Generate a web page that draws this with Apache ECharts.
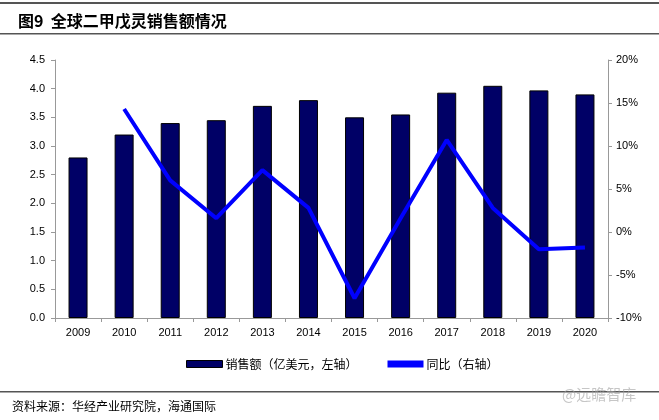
<!DOCTYPE html>
<html><head><meta charset="utf-8">
<script src="https://cdn.jsdelivr.net/npm/echarts@6/dist/echarts.min.js"></script>
<style>html,body{margin:0;padding:0;background:#fff}#c{width:659px;height:420px}</style>
</head><body><div id="c"></div>
<script>
const years = ['2009','2010','2011','2012','2013','2014','2015','2016','2017','2018','2019','2020'];
const sales = [2.8, 3.2, 3.4, 3.45, 3.7, 3.8, 3.5, 3.55, 3.93, 4.05, 3.97, 3.9];
const yoy = [null, 14.3, 6.0, 1.6, 7.2, 2.8, -7.7, 1.6, 10.7, 2.8, -2.0, -1.8];
const leftTicks = ['0.0','0.5','1.0','1.5','2.0','2.5','3.0','3.5','4.0','4.5'];

const chart = echarts.init(document.getElementById('c'));
const axisFont = {fontFamily:'Liberation Sans, Arial', fontSize:11, color:'#000'};
chart.setOption({
  animation:false,
  grid:{left:55, right:51, top:60, bottom:102},
  title:{text:'图9  全球二甲戊灵销售额情况', left:13, top:8,
    textStyle:{fontFamily:'Noto Sans CJK SC', fontWeight:'bold', fontSize:16, color:'#000'}},
  legend:{top:353, left:181, itemGap:30, itemWidth:36, itemHeight:7,
    textStyle:{fontFamily:'Noto Sans CJK SC', fontSize:12, color:'#000', padding:[0,0,0,-2]},
    data:[{name:'销售额（亿美元，左轴）', icon:'rect', itemStyle:{borderColor:'#000', borderWidth:1}}, {name:'同比（右轴）', icon:'rect', itemStyle:{color:'#0000ff', borderWidth:0}}]},
  xAxis:{type:'category', data:years,
    axisLine:{lineStyle:{color:'#999'}},
    axisTick:{show:true, alignWithLabel:false, length:4, lineStyle:{color:'#999'}},
    axisLabel:Object.assign({margin:9}, axisFont)},
  yAxis:[
    {type:'value', min:0, max:4.5, interval:0.5, position:'left',
     axisLine:{show:true, lineStyle:{color:'#999'}},
     axisTick:{show:true, length:4, lineStyle:{color:'#999'}},
     splitLine:{show:false},
     axisLabel:Object.assign({margin:10, formatter:(v,i)=>leftTicks[i]}, axisFont)},
    {type:'value', min:-10, max:20, interval:5, position:'right',
     axisLine:{show:true, lineStyle:{color:'#999'}},
     axisTick:{show:true, length:4, lineStyle:{color:'#999'}},
     splitLine:{show:false},
     axisLabel:Object.assign({margin:8, formatter:v=>v+'%'}, axisFont)}
  ],
  series:[
    {name:'销售额（亿美元，左轴）', type:'bar', data:sales, yAxisIndex:0, barWidth:19,
     itemStyle:{color:'#000066', borderColor:'#000', borderWidth:1}},
    {name:'同比（右轴）', type:'line', data:yoy, yAxisIndex:1, symbol:'none',
     lineStyle:{color:'#0000ff', width:4}, itemStyle:{color:'#0000ff'}}
  ],
  graphic:[
    {type:'rect', shape:{x:0,y:2,width:659,height:2}, style:{fill:'#555'}},
    {type:'rect', shape:{x:0,y:33,width:659,height:1.5}, style:{fill:'#555'}},
    {type:'rect', shape:{x:0,y:391,width:659,height:1.5}, style:{fill:'#555'}},
    {type:'text', left:12, top:400, style:{text:'资料来源：华经产业研究院，海通国际', fontFamily:'Noto Sans CJK SC', fontSize:12, fill:'#000'}},
    {type:'text', left:562, top:387, style:{text:'@远瞻智库', fontFamily:'Noto Sans CJK SC', fontSize:15, fill:'rgba(160,160,160,0.6)'}}
  ]
});
</script></body></html>
